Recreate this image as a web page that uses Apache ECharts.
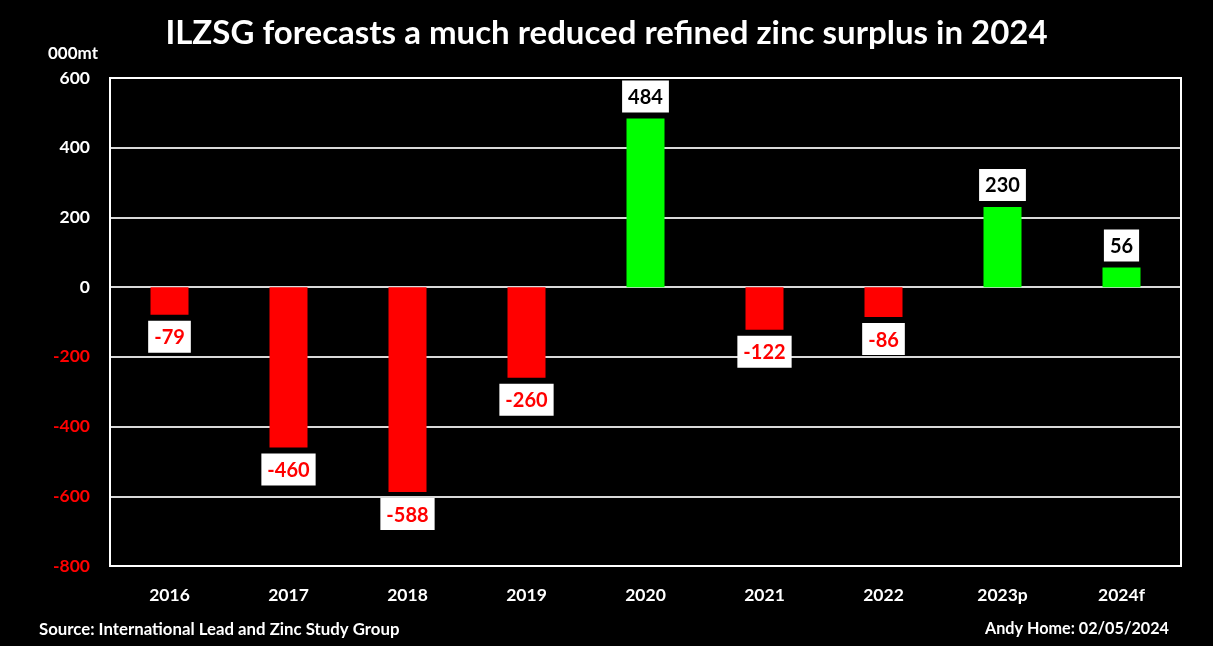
<!DOCTYPE html>
<html><head><meta charset="utf-8">
<script src="https://cdn.jsdelivr.net/npm/echarts@6/dist/echarts.min.js"></script>
<style>html,body{margin:0;padding:0;background:#000;}#c{width:1213px;height:646px;}</style>
</head><body><div id="c"></div>
<script>
const categories = ['2016','2017','2018','2019','2020','2021','2022','2023p','2024f'];
const values = [-79,-460,-588,-260,484,-122,-86,230,56];
const yTicks = {min:-800, max:600, interval:200};
const titleText = 'ILZSG forecasts a much reduced refined zinc surplus in 2024';
const unitText = '000mt';
const sourceText = 'Source: International Lead and Zinc Study Group';
const creditText = 'Andy Home: 02/05/2024';

const FONT = 'Lato, "Open Sans", sans-serif';
const chart = echarts.init(document.getElementById('c'));
chart.setOption({
  backgroundColor:'#000',
  animation:false,
  title:{text:titleText,left:'center',top:12,textStyle:{color:'#fff',fontSize:33,fontWeight:'bold',fontFamily:FONT}},
  graphic:[
    {type:'text',left:48,top:45,style:{text:unitText,fill:'#fff',font:'bold 17px '+FONT}},
    {type:'text',left:39,top:621,style:{text:sourceText,fill:'#fff',font:'bold 16.8px '+FONT}},
    {type:'text',right:44,top:621,style:{text:creditText,fill:'#fff',font:'bold 16.2px '+FONT}},
    {type:'rect',shape:{x:110,y:78,width:1071,height:488},style:{fill:'none',stroke:'#fff',lineWidth:2},z:10}
  ],
  grid:{left:110,right:32,top:78,bottom:80},
  xAxis:{type:'category',data:categories,position:'bottom',
    axisLine:{show:false},axisTick:{show:false},
    axisLabel:{color:'#fff',fontSize:17.5,fontWeight:'bold',fontFamily:FONT,margin:20}},
  yAxis:{type:'value',min:yTicks.min,max:yTicks.max,interval:yTicks.interval,
    axisLine:{show:false},axisTick:{show:false},
    splitLine:{lineStyle:{color:'#d9d9d9',width:2}},
    axisLabel:{fontSize:17.5,fontWeight:'bold',fontFamily:FONT,margin:20,
      color:function(v){return Number(v)<0?'#ff0000':'#ffffff';}}},
  series:[{type:'bar',barWidth:38,
    data:values.map(v=>({value:v,
      itemStyle:{color:v<0?'#ff0000':'#00ff00'},
      label:{show:true,position:v<0?'bottom':'top',distance:6,
        color:v<0?'#ff0000':'#000000',backgroundColor:'#fff',
        padding:[7,6,5,6],fontSize:20,fontWeight:'bold',fontFamily:FONT}}))}]
});
</script></body></html>
